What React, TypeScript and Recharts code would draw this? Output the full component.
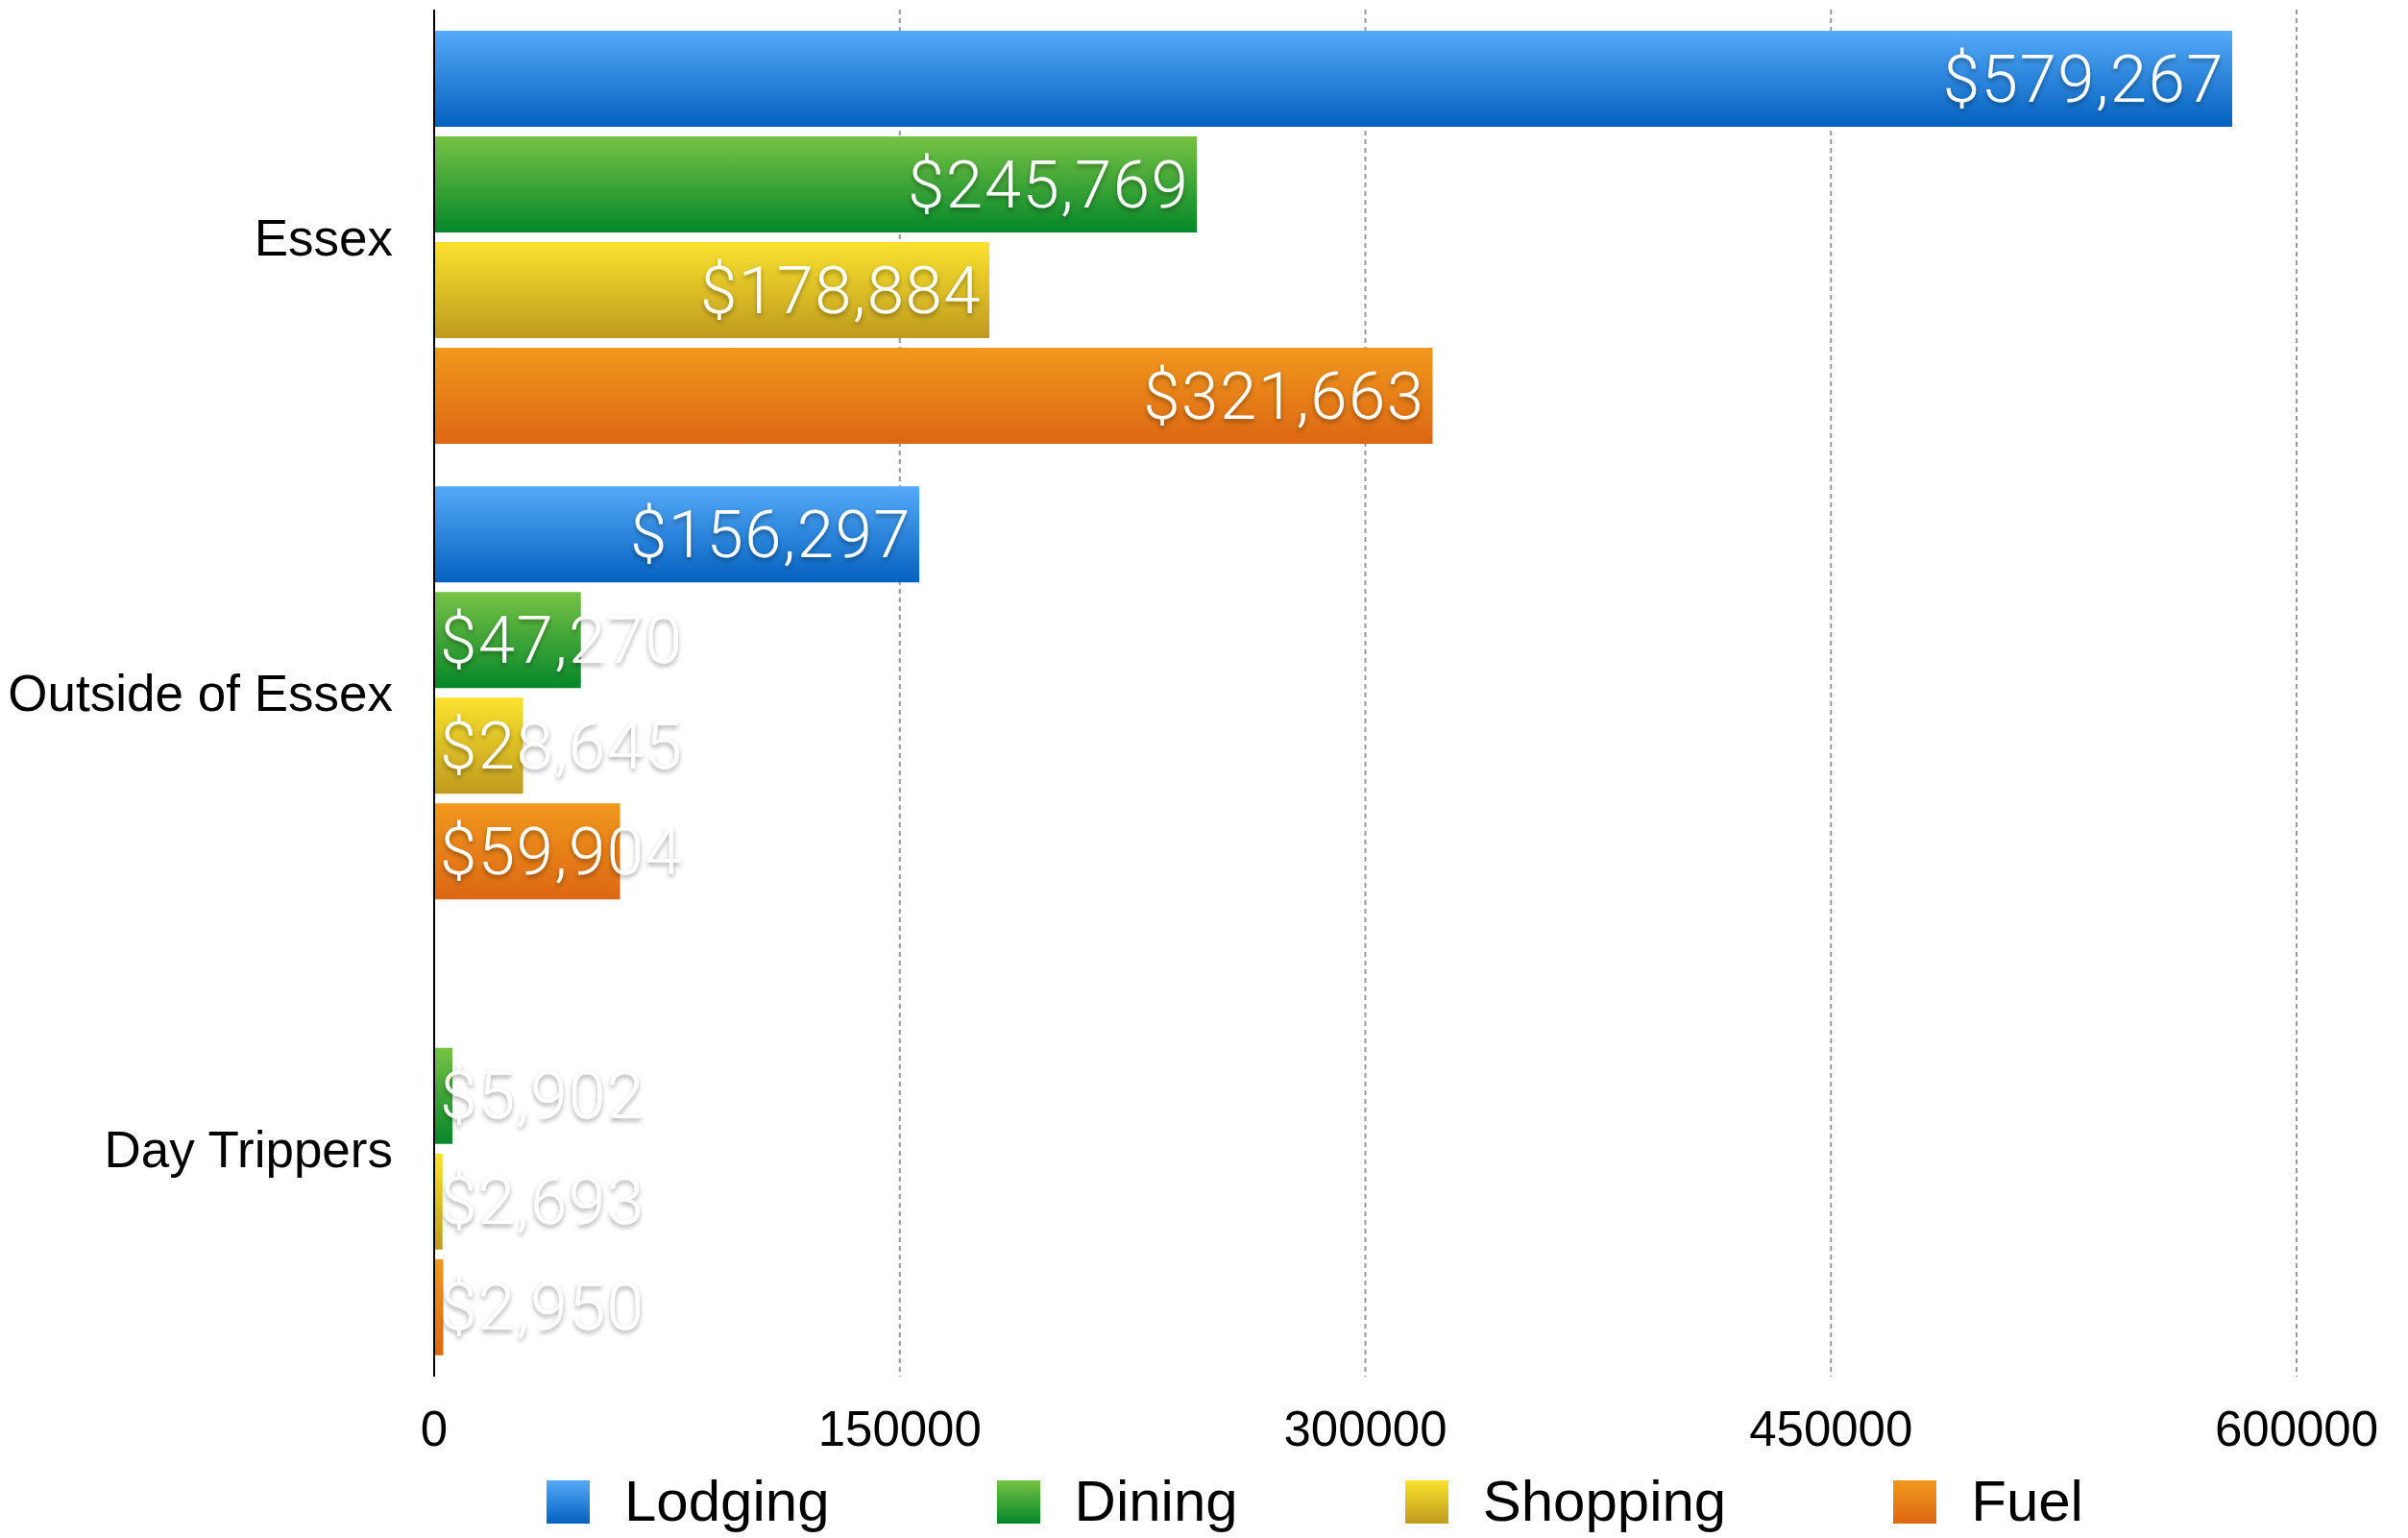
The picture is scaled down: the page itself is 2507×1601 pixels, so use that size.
import { BarChart, Bar, XAxis, YAxis, CartesianGrid, Legend, LabelList } from 'recharts'

const categories = ['Essex', 'Outside of Essex', 'Day Trippers']
const lodging = [579267, 156297, 0]
const dining = [245769, 47270, 5902]
const shopping = [178884, 28645, 2693]
const fuel = [321663, 59904, 2950]
const xTicks = [0, 150000, 300000, 450000, 600000]

const series = [
  { key: 'lodging', name: 'Lodging', top: '#55aaf8', bottom: '#0461bf' },
  { key: 'dining', name: 'Dining', top: '#77c244', bottom: '#05872a' },
  { key: 'shopping', name: 'Shopping', top: '#fae22e', bottom: '#bf9a1e' },
  { key: 'fuel', name: 'Fuel', top: '#f0981d', bottom: '#dd6713' },
]

const data = categories.map((name, i) => ({
  name,
  lodging: lodging[i],
  dining: dining[i],
  shopping: shopping[i],
  fuel: fuel[i],
}))

const FONT = '"Liberation Sans", Arial, sans-serif'
const LABEL_FONT = 'Roboto, "Liberation Sans", sans-serif'
const LABEL_SIZE = 69

function ValueLabel(props: any) {
  const { x, y, width, height, value } = props
  if (!value) return null
  const text = '$' + Number(value).toLocaleString('en-US')
  const commas = (text.match(/,/g) || []).length
  const est = ((text.length - commas) * 0.556 + commas * 0.278) * LABEL_SIZE
  const fits = est + 16 <= width
  return (
    <text
      x={fits ? x + width - 8 : x + 6}
      y={y + height / 2}
      textAnchor={fits ? 'end' : 'start'}
      dominantBaseline="central"
      fill="#fff"
      fontSize={LABEL_SIZE}
      fontWeight={300}
      letterSpacing={1.5}
      fontFamily={LABEL_FONT}
      filter="url(#labelShadow)"
    >
      {text}
    </text>
  )
}

function LegendContent() {
  return (
    <div style={{ display: 'flex', alignItems: 'center', height: 64, paddingBottom: 12, boxSizing: 'border-box' }}>
      {series.map((s, i) => (
        <div key={s.key} style={{ display: 'flex', alignItems: 'center', marginRight: i < series.length - 1 ? 174 : 0 }}>
          <div
            style={{
              width: 45,
              height: 45,
              marginRight: 36,
              background: `linear-gradient(${s.top}, ${s.bottom})`,
            }}
          />
          <span style={{ fontFamily: FONT, fontSize: 60, color: '#000', lineHeight: 1 }}>{s.name}</span>
        </div>
      ))}
    </div>
  )
}

export default function App() {
  return (
    <div style={{ position: 'absolute', left: 0, top: 0, background: '#fff' }}>
      <BarChart
        width={2507}
        height={1601}
        data={data}
        layout="vertical"
        margin={{ top: 10, right: 116, left: 0, bottom: 0 }}
        barCategoryGap={22}
        barGap={10}
      >
        <defs>
          {series.map(s => (
            <linearGradient key={s.key} id={`grad-${s.key}`} x1="0" y1="0" x2="0" y2="1">
              <stop offset="0%" stopColor={s.top} />
              <stop offset="100%" stopColor={s.bottom} />
            </linearGradient>
          ))}
          <filter id="labelShadow" x="-10%" y="-30%" width="120%" height="160%">
            <feDropShadow dx="0" dy="3" stdDeviation="2.5" floodColor="#000" floodOpacity="0.35" />
          </filter>
        </defs>
        <CartesianGrid horizontal={false} stroke="#999" strokeWidth={2} strokeDasharray="5 4" />
        <XAxis
          type="number"
          domain={[0, 600000]}
          ticks={xTicks}
          axisLine={false}
          tickLine={false}
          tickSize={0}
          tickMargin={36}
          height={104}
          tick={{ fill: '#000', fontSize: 51, fontFamily: FONT }}
        />
        <YAxis
          type="category"
          dataKey="name"
          width={452}
          tickLine={false}
          tickSize={0}
          tickMargin={43}
          axisLine={{ stroke: '#000', strokeWidth: 2 }}
          tick={{ fill: '#000', fontSize: 53, fontFamily: FONT }}
        />
        <Legend
          verticalAlign="bottom"
          content={LegendContent}
          wrapperStyle={{ left: 569, width: 'auto', bottom: 0 }}
        />
        {series.map(s => (
          <Bar key={s.key} dataKey={s.key} name={s.name} fill={`url(#grad-${s.key})`} isAnimationActive={false}>
            <LabelList dataKey={s.key} content={ValueLabel} />
          </Bar>
        ))}
      </BarChart>
    </div>
  )
}
